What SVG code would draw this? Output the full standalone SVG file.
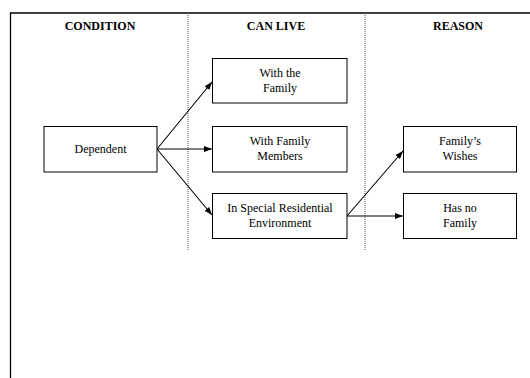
<svg xmlns="http://www.w3.org/2000/svg" width="530" height="378" viewBox="0 0 530 378">
<defs>
<style>
.box{fill:#fff;stroke:#000;stroke-width:1}
.t{font-family:"Liberation Serif","Times New Roman",serif;font-size:12px;fill:#000;text-anchor:middle}
.h{font-family:"Liberation Serif","Times New Roman",serif;font-size:12px;font-weight:bold;fill:#000;text-anchor:middle}
.c{stroke:#000;stroke-width:1.1;fill:none;marker-end:url(#ah)}
.div{stroke:#555;stroke-width:1;stroke-dasharray:1 1}
</style>
<marker id="ah" markerWidth="8" markerHeight="6" refX="8" refY="3" orient="auto" markerUnits="userSpaceOnUse">
<path d="M0,0 L8,3 L0,6 z" fill="#000"/>
</marker>
</defs>
<rect width="530" height="378" fill="#fff"/>
<g id="frame">
<path d="M10.5,378 V13 H530" fill="none" stroke="#000" stroke-width="1.3"/>
<line class="div" x1="188" y1="13" x2="188" y2="250"/>
<line class="div" x1="365" y1="13" x2="365" y2="250"/>
</g>
<g id="headers">
<text class="h" x="100" y="29.5">CONDITION</text>
<text class="h" x="276" y="29.5">CAN LIVE</text>
<text class="h" x="458" y="29.5">REASON</text>
</g>
<g id="connectors">
<line class="c" x1="157" y1="149" x2="212" y2="82"/>
<line class="c" x1="157" y1="149" x2="212" y2="149"/>
<line class="c" x1="157" y1="149" x2="212" y2="215"/>
<line class="c" x1="347" y1="216" x2="403" y2="151"/>
<line class="c" x1="347" y1="216" x2="403" y2="216"/>
</g>
<g id="dependent">
<rect class="box" x="44" y="126.5" width="113" height="45.5"/>
<text class="t" x="100.5" y="153">Dependent</text>
</g>
<g id="with-the-family">
<rect class="box" x="212.5" y="58.5" width="134.5" height="44.5"/>
<text class="t" x="280" y="77">With the</text>
<text class="t" x="280" y="91.5">Family</text>
</g>
<g id="with-family-members">
<rect class="box" x="212.5" y="126.5" width="134.5" height="45.5"/>
<text class="t" x="280" y="145">With Family</text>
<text class="t" x="280" y="159.5">Members</text>
</g>
<g id="in-special">
<rect class="box" x="212.5" y="193.5" width="134.5" height="45"/>
<text class="t" x="280" y="212">In Special Residential</text>
<text class="t" x="280" y="226.5">Environment</text>
</g>
<g id="familys-wishes">
<rect class="box" x="403.5" y="126.5" width="113" height="45.5"/>
<text class="t" x="460" y="145">Family’s</text>
<text class="t" x="460" y="159.5">Wishes</text>
</g>
<g id="has-no-family">
<rect class="box" x="403.5" y="193.5" width="113" height="45"/>
<text class="t" x="460" y="212">Has no</text>
<text class="t" x="460" y="226.5">Family</text>
</g>
</svg>
